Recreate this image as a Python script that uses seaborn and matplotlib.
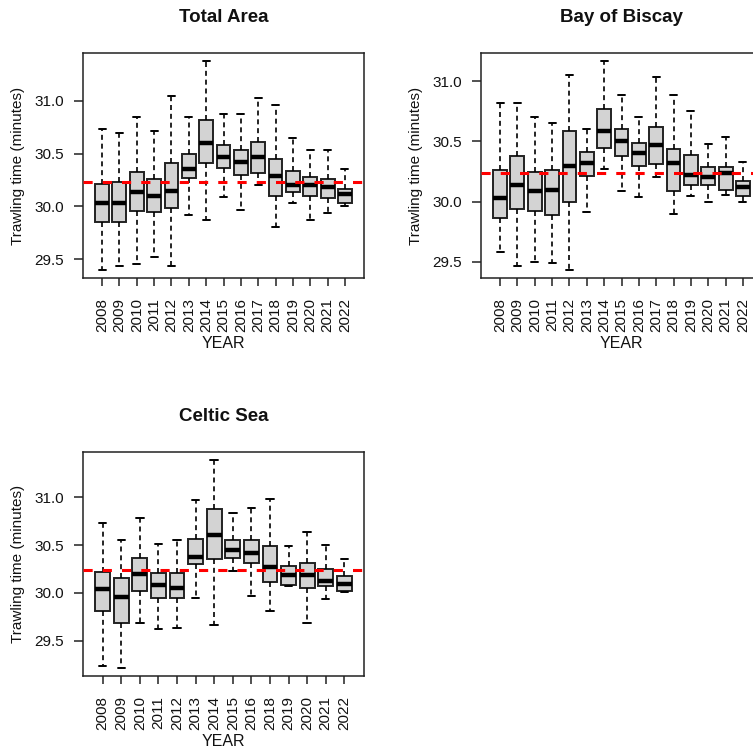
import pandas as pd
import numpy as np
import matplotlib
matplotlib.use('Agg')
import matplotlib.pyplot as plt
import seaborn as sns

# five-number summaries
years_all = [2008, 2009, 2010, 2011, 2012, 2013, 2014, 2015, 2016, 2017, 2018, 2019, 2020, 2021, 2022]
years_celtic = [2008, 2009, 2010, 2011, 2012, 2013, 2014, 2015, 2016, 2018, 2019, 2020, 2021, 2022]

total_min = [29.40, 29.435, 29.45, 29.52, 29.435, 29.92, 29.87, 30.086, 29.97, 30.20, 29.80, 30.03, 29.867, 29.933, 30.00]
total_q1 = [29.85, 29.85, 29.96, 29.95, 29.98, 30.27, 30.41, 30.36, 30.30, 30.317, 30.10, 30.133, 30.10, 30.083, 30.03]
total_med = [30.035, 30.035, 30.133, 30.10, 30.15, 30.35, 30.60, 30.467, 30.416, 30.467, 30.29, 30.203, 30.203, 30.187, 30.12]
total_q3 = [30.21, 30.23, 30.33, 30.26, 30.41, 30.495, 30.816, 30.58, 30.533, 30.613, 30.45, 30.336, 30.283, 30.263, 30.168]
total_max = [30.73, 30.70, 30.845, 30.714, 31.044, 30.845, 31.375, 30.873, 30.873, 31.03, 30.96, 30.648, 30.536, 30.536, 30.35]

biscay_min = [29.585, 29.465, 29.50, 29.487, 29.435, 29.916, 30.267, 30.086, 30.036, 30.20, 29.90, 30.045, 30.00, 30.053, 30.00]
biscay_q1 = [29.866, 29.94, 29.925, 29.886, 29.997, 30.215, 30.448, 30.38, 30.298, 30.315, 30.084, 30.134, 30.134, 30.10, 30.05]
biscay_med = [30.033, 30.136, 30.084, 30.10, 30.295, 30.318, 30.588, 30.50, 30.404, 30.468, 30.318, 30.22, 30.203, 30.234, 30.12]
biscay_q3 = [30.265, 30.38, 30.242, 30.265, 30.582, 30.41, 30.769, 30.60, 30.485, 30.618, 30.437, 30.384, 30.284, 30.284, 30.167]
biscay_max = [30.82, 30.82, 30.70, 30.65, 31.05, 30.60, 31.164, 30.883, 30.70, 31.033, 30.883, 30.752, 30.48, 30.532, 30.33]

celtic_min = [29.236, 29.215, 29.68, 29.62, 29.634, 29.95, 29.665, 30.23, 29.969, 29.805, 30.07, 29.686, 29.937, 30.007]
celtic_q1 = [29.81, 29.68, 30.017, 29.948, 29.948, 30.30, 30.349, 30.366, 30.317, 30.112, 30.084, 30.052, 30.066, 30.021]
celtic_med = [30.038, 29.958, 30.195, 30.084, 30.052, 30.373, 30.61, 30.443, 30.419, 30.269, 30.185, 30.188, 30.122, 30.087]
celtic_q3 = [30.213, 30.16, 30.366, 30.202, 30.202, 30.565, 30.879, 30.558, 30.551, 30.485, 30.283, 30.317, 30.244, 30.181]
celtic_max = [30.736, 30.551, 30.788, 30.516, 30.551, 30.97, 31.388, 30.834, 30.889, 30.987, 30.488, 30.635, 30.502, 30.352]

ref_line = 30.235

sns.set_style("ticks")
plt.rcParams['font.family'] = ['Liberation Sans', 'DejaVu Sans']
plt.rcParams['text.color'] = '#111111'
plt.rcParams['axes.labelcolor'] = '#111111'
plt.rcParams['xtick.color'] = '#111111'
plt.rcParams['ytick.color'] = '#111111'


def make_df(years, lo, q1, med, q3, hi):
    rows = []
    for i, y in enumerate(years):
        for v in (lo[i], q1[i], med[i], q3[i], hi[i]):
            rows.append((str(y), v))
    return pd.DataFrame(rows, columns=['YEAR', 'time'])


def panel(ax, title, years, lo, q1, med, q3, hi):
    df = make_df(years, lo, q1, med, q3, hi)
    sns.boxplot(data=df, x='YEAR', y='time', order=[str(y) for y in years],
                ax=ax, whis=(0, 100), width=0.8, color='#d3d3d3', saturation=1,
                linecolor='#222222', linewidth=1.4, showfliers=False,
                whiskerprops=dict(linestyle=(0, (3, 2.3)), linewidth=1.2, color='black'),
                capprops=dict(linewidth=1.4, color='black'),
                medianprops=dict(linewidth=3.2, color='black'))
    n = len(years)
    ax.set_xlim(-0.5 - 0.04 * n, n - 0.5 + 0.04 * n)
    rng = max(hi) - min(lo)
    ax.set_ylim(min(lo) - 0.04 * rng, max(hi) + 0.04 * rng)
    ax.axhline(ref_line, color='red', linewidth=2.2, linestyle=(0, (3, 3.3)), zorder=10)
    ax.set_yticks([29.5, 30.0, 30.5, 31.0])
    ax.set_yticklabels(['29.5', '30.0', '30.5', '31.0'])
    ax.tick_params(axis='x', labelrotation=90, length=6, width=1.1, pad=8.5, labelsize=11, color='#222222')
    ax.tick_params(axis='y', length=6.5, width=1.1, pad=7, labelsize=11, color='#222222')
    for s in ax.spines.values():
        s.set_visible(True)
        s.set_linewidth(1.1)
        s.set_color('#222222')
    ax.set_xlabel('YEAR', fontsize=11.5, labelpad=3)
    ax.set_ylabel('Trawling time (minutes)', fontsize=11, labelpad=7)
    ax.set_title(title, fontsize=13.5, fontweight='bold', pad=22)


fig = plt.figure(figsize=(7.53, 7.56), dpi=100)
ax1 = fig.add_axes([83 / 753, 1 - 278 / 756, 281 / 753, 225 / 756])
ax2 = fig.add_axes([481 / 753, 1 - 278 / 756, 281 / 753, 225 / 756])
ax3 = fig.add_axes([83 / 753, 1 - 676 / 756, 281 / 753, 224 / 756])

panel(ax1, 'Total Area', years_all, total_min, total_q1, total_med, total_q3, total_max)
panel(ax2, 'Bay of Biscay', years_all, biscay_min, biscay_q1, biscay_med, biscay_q3, biscay_max)
panel(ax3, 'Celtic Sea', years_celtic, celtic_min, celtic_q1, celtic_med, celtic_q3, celtic_max)

fig.savefig('out.png', dpi=100, facecolor='white')
